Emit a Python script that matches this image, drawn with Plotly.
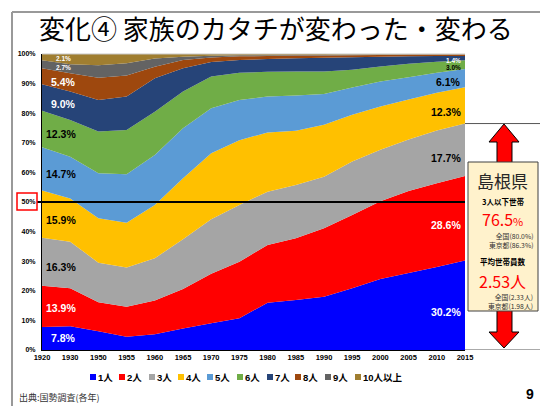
import plotly.graph_objects as go

# ---------------- data ----------------
years = ["1920", "1930", "1950", "1955", "1960", "1965", "1970", "1975",
         "1980", "1985", "1990", "1995", "2000", "2005", "2010", "2015"]
series_names = ["1人", "2人", "3人", "4人", "5人", "6人", "7人", "8人", "9人", "10人以上"]

p1 = [7.8, 8.0, 6.3, 4.5, 5.3, 7.3, 9.0, 10.7, 16.0, 16.9, 18.0, 20.8, 24.0, 26.0, 28.0, 30.2]
p2 = [13.9, 12.9, 9.8, 10.1, 11.4, 13.3, 16.7, 19.1, 19.5, 20.8, 23.1, 24.8, 26.2, 27.6, 28.2, 28.6]
p3 = [16.3, 15.7, 13.4, 13.3, 14.3, 16.8, 18.4, 19.2, 18.0, 18.0, 17.4, 18.0, 17.4, 17.4, 17.8, 17.7]
p4 = [15.9, 14.6, 15.0, 15.1, 18.0, 20.6, 22.3, 21.9, 20.0, 18.3, 17.5, 15.8, 14.6, 13.5, 12.7, 12.3]
p5 = [14.7, 14.1, 15.2, 16.4, 16.9, 16.9, 15.2, 13.6, 12.1, 11.9, 10.4, 9.2, 8.4, 7.5, 6.8, 6.1]
p6 = [12.3, 12.4, 14.1, 14.9, 14.6, 12.4, 10.7, 9.2, 8.4, 8.1, 7.6, 6.0, 5.1, 4.5, 3.7, 3.0]
p7 = [9.0, 9.6, 10.7, 11.3, 11.3, 7.9, 4.9, 4.3, 4.3, 4.5, 4.6, 4.2, 3.3, 2.5, 1.9, 1.4]
p8 = [5.4, 6.2, 7.5, 7.1, 3.9, 2.8, 1.5, 1.2, 1.0, 0.9, 0.8, 0.7, 0.6, 0.6, 0.5, 0.5]
p9 = [2.7, 3.0, 4.2, 4.2, 2.8, 1.1, 0.6, 0.4, 0.3, 0.2, 0.2, 0.2, 0.1, 0.1, 0.1, 0.1]
p10 = [2.1, 3.5, 3.8, 3.1, 1.5, 0.9, 0.6, 0.4, 0.4, 0.3, 0.3, 0.2, 0.2, 0.1, 0.1, 0.1]
series_values = [p1, p2, p3, p4, p5, p6, p7, p8, p9, p10]

ytick_vals = [0, 10, 20, 30, 40, 50, 60, 70, 80, 90, 100]
ytick_text = ["0%", "10%", "20%", "30%", "40%", "50%", "60%", "70%", "80%", "90%", "100%"]

# side box figures (Shimane)
small_hh_share = 76.5      # 3人以下世帯 (%)
small_hh_national = 80.0
small_hh_tokyo = 86.3
avg_members = 2.53         # 平均世帯員数 (人)
avg_members_national = 2.33
avg_members_tokyo = 1.98

# ---------------- styles ----------------
colors = ["#0000FF", "#FF0000", "#A5A5A5", "#FFC000", "#5B9BD5",
          "#70AD47", "#264478", "#9E480E", "#636363", "#A07E30"]
# label placement (y in %, colour, size, x-offset) for first / last year
left_label_style = [(4.1, "white", 10.5, 8), (14.2, "white", 10.5, 3), (28.0, "black", 10.5, 3),
                    (43.9, "black", 10.5, 3), (59.5, "black", 10.5, 3), (73.0, "black", 10.5, 3),
                    (83.1, "white", 10.5, 8), (90.5, "white", 10.5, 8), (95.3, "white", 6.5, 13),
                    (98.6, "white", 6.5, 13)]
right_label_style = [(12.8, "white", 10.5), (42.2, "white", 10.5), (64.9, "black", 10.5),
                     (80.4, "black", 10.5), (90.5, "black", 10.5), (95.3, "black", 6.5),
                     (97.9, "white", 6.5), (101.2, "black", 6.5)]

L, R, T, B = 42, 75, 54, 56
W, H = 540, 406
PW, PH = W - L - R, H - T - B


def px(x):
    return (x - L) / PW


def py(y):
    return (H - B - y) / PH


LAT = "Liberation Sans, Arial, Noto Sans CJK JP, sans-serif"
CJK = "Noto Sans CJK JP, sans-serif"

fig = go.Figure()
for i, (name, vals, col) in enumerate(zip(series_names, series_values, colors)):
    fig.add_trace(go.Scatter(
        x=years, y=vals, name=name, mode="none", stackgroup="hh",
        groupnorm="percent" if i == 0 else None,
        fillcolor=col, showlegend=False, hoverinfo="skip"))

annotations = []
shapes = []

first_idx, last_idx = 0, len(years) - 1
# data labels, first and last year
for vals, (yy, c, s, dx) in zip(series_values, left_label_style):
    annotations.append(dict(x=first_idx, y=yy, xref="x", yref="y", text=f"{vals[0]:.1f}%",
                            showarrow=False, xanchor="left", yanchor="middle", xshift=dx,
                            borderpad=0,
                            font=dict(family=LAT, size=s, color=c, weight="bold")))
for vals, (yy, c, s) in zip(series_values, right_label_style):
    annotations.append(dict(x=last_idx, y=yy, xref="x", yref="y", text=f"{vals[-1]:.1f}%",
                            showarrow=False, xanchor="right", yanchor="middle", xshift=-3,
                            borderpad=0,
                            font=dict(family=LAT, size=s, color=c, weight="bold")))

# thin top border of plot area
shapes.append(dict(type="line", xref="paper", yref="paper", x0=0, x1=1, y0=1, y1=1,
                   line=dict(color="#C8C8C8", width=1)))
# 50% line and red box around label
shapes.append(dict(type="line", xref="paper", yref="y", x0=px(37), x1=1.0, y0=50, y1=50,
                   line=dict(color="black", width=2)))
shapes.append(dict(type="rect", xref="paper", yref="paper", x0=px(17), x1=px(37), y0=py(210), y1=py(193),
                   line=dict(color="#FF0000", width=1.5)))

# bracket lines on the right
cum3 = p1[-1] + p2[-1] + p3[-1]
shapes.append(dict(type="line", xref="paper", yref="y", x0=1.0, x1=px(540), y0=cum3, y1=cum3,
                   line=dict(color="#555555", width=1)))
shapes.append(dict(type="line", xref="paper", yref="y", x0=1.0, x1=px(540), y0=0, y1=0,
                   line=dict(color="#555555", width=1)))


def path(points):
    return "M " + " L ".join(f"{px(a):.5f} {py(b):.5f}" for a, b in points) + " Z"


up = [(504, 124), (489, 142), (497, 142), (497, 163), (512, 163), (512, 142), (519, 142)]
down = [(497, 310), (497, 332), (489, 332), (504, 348), (519, 332), (512, 332), (512, 310)]
for pts in (up, down):
    shapes.append(dict(type="path", xref="paper", yref="paper", path=path(pts),
                       fillcolor="#FF0000", line=dict(color="black", width=1)))
shapes.append(dict(type="rect", xref="paper", yref="paper", x0=px(468), x1=px(538), y0=py(311), y1=py(162),
                   fillcolor="#FFF2CC", line=dict(color="#404040", width=1)))

# box texts
cx = px(503)
box_texts = [
    dict(x=cx, y=py(180), text="島根県", font=dict(family=CJK, size=17, color="#262626")),
    dict(x=cx, y=py(201), text="3人以下世帯", font=dict(family=CJK, size=7.5, color="black", weight="bold")),
    dict(x=cx, y=py(219), text=f"{small_hh_share:.1f}<span style='font-size:11px'>%</span>",
         font=dict(family=CJK, size=16, color="#FF0000")),
    dict(x=px(534), y=py(240), xanchor="right", align="right",
         text=f"全国({small_hh_national:.1f}%)<br>東京都({small_hh_tokyo:.1f}%)",
         font=dict(family=CJK, size=6.8, color="#333333")),
    dict(x=cx, y=py(261), text="平均世帯員数", font=dict(family=CJK, size=7.5, color="black", weight="bold")),
    dict(x=cx, y=py(280.5), text=f"{avg_members:.2f}人", font=dict(family=CJK, size=16, color="#FF0000")),
    dict(x=px(534), y=py(301), xanchor="right", align="right",
         text=f"全国({avg_members_national:.2f}人)<br>東京都({avg_members_tokyo:.2f}人)",
         font=dict(family=CJK, size=6.8, color="#333333")),
]
for a in box_texts:
    a.update(xref="paper", yref="paper", showarrow=False, yanchor="middle", borderpad=0)
    a.setdefault("xanchor", "center")
annotations += box_texts

# title, source, page number
annotations += [
    dict(x=px(37), y=py(28), xref="paper", yref="paper", xanchor="left", yanchor="middle",
         showarrow=False, text="変化④ 家族のカタチが変わった・変わる",
         font=dict(family=CJK, size=26, color="black")),
    dict(x=px(18), y=py(397), xref="paper", yref="paper", xanchor="left", yanchor="middle",
         showarrow=False, text="出典:国勢調査(各年)", borderpad=0,
         font=dict(family=CJK, size=9, color="#333333")),
    dict(x=px(530), y=py(394), xref="paper", yref="paper", xanchor="center", yanchor="middle",
         showarrow=False, text="9", borderpad=0,
         font=dict(family=LAT, size=14, color="black", weight="bold")),
]

# frame
shapes.append(dict(type="line", xref="paper", yref="paper", x0=px(12), x1=px(541), y0=py(12), y1=py(12),
                   line=dict(color="#999999", width=2)))
shapes.append(dict(type="line", xref="paper", yref="paper", x0=px(12), x1=px(12), y0=py(12), y1=py(407),
                   line=dict(color="#999999", width=2)))

# legend (drawn as squares + text)
leg_x = [93, 122, 152, 181, 210, 240, 270, 298, 328, 358]
for xm, name, col in zip(leg_x, series_names, colors):
    shapes.append(dict(type="rect", xref="paper", yref="paper", x0=px(xm - 3), x1=px(xm + 3),
                       y0=py(380), y1=py(374), fillcolor=col, line=dict(width=0)))
    annotations.append(dict(x=px(xm + 4), y=py(377), xref="paper", yref="paper", xanchor="left",
                            yanchor="middle", showarrow=False, text=name, borderpad=0,
                            font=dict(family=LAT, size=9.5, color="black", weight="bold")))

fig.update_layout(
    width=W, height=H, margin=dict(l=L, r=R, t=T, b=B),
    paper_bgcolor="white", plot_bgcolor="white", showlegend=False,
    font=dict(family=LAT, color="black"),
    annotations=annotations, shapes=shapes,
)
fig.update_xaxes(type="category", range=[0, len(years) - 1], showline=True, linecolor="black",
                 linewidth=1, showgrid=False, zeroline=False, ticks="",
                 tickfont=dict(family=LAT, size=7.5, color="black", weight="bold"))
fig.update_yaxes(range=[0, 100], tickvals=ytick_vals, ticktext=ytick_text, showline=True,
                 linecolor="black", linewidth=1, showgrid=False, zeroline=False, ticks="",
                 ticklabelstandoff=4,
                 tickfont=dict(family=LAT, size=7, color="black", weight="bold"))

fig.write_html("out.html", config={"displayModeBar": False},
               post_script="document.body.style.margin='0px';")
